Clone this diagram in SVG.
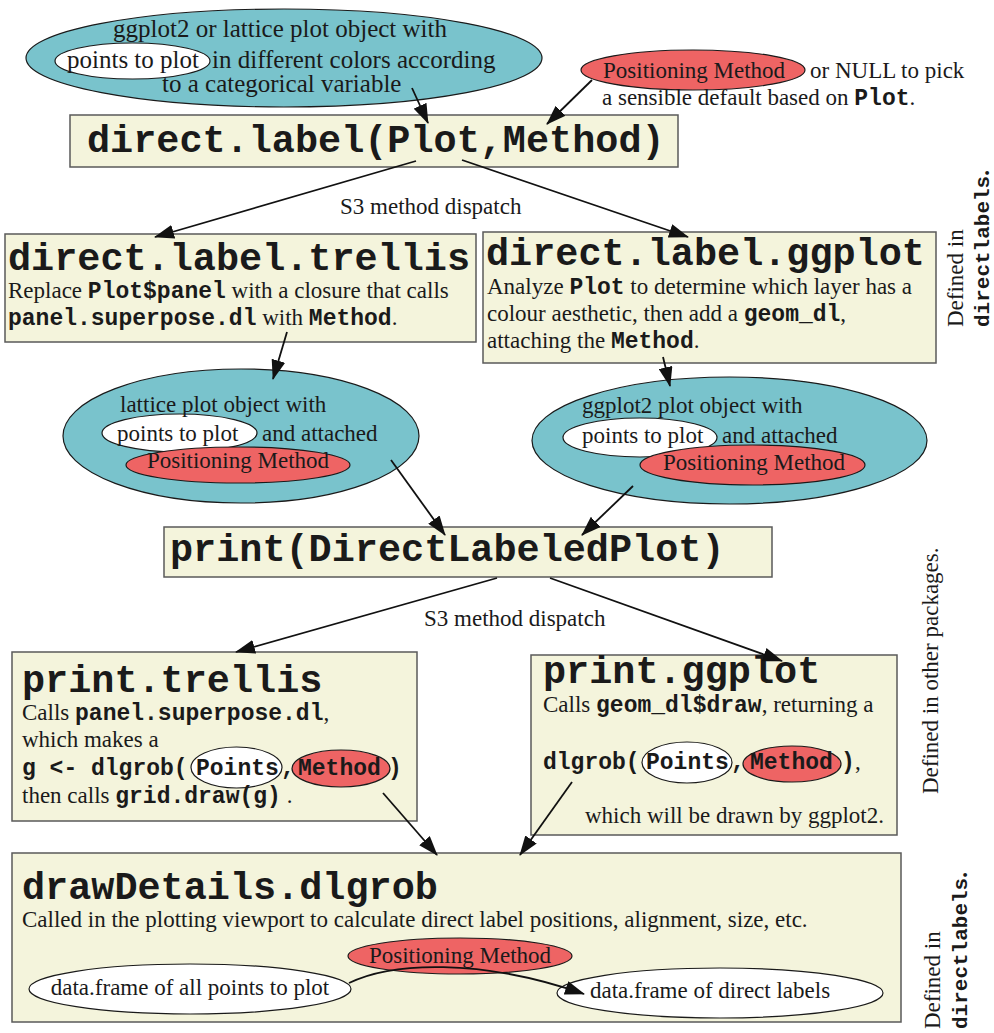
<svg xmlns="http://www.w3.org/2000/svg" width="994" height="1033" viewBox="0 0 994 1033">
<defs>
<style>
.s{font-family:"Liberation Serif","Times New Roman",serif;font-size:23px;fill:#1a1a1a}
.s25{font-family:"Liberation Serif","Times New Roman",serif;font-size:25px;fill:#1a1a1a}
.m{font-family:"Liberation Mono","Courier New",monospace;font-weight:bold;font-size:23px}
.mr{font-family:"Liberation Mono","Courier New",monospace;font-weight:bold;font-size:21px;fill:#1a1a1a}
.t{font-family:"Liberation Mono","Courier New",monospace;font-weight:bold;font-size:38.5px;fill:#1a1a1a}
.box{fill:#F4F4DC;stroke:#5a5a5a;stroke-width:1.5}
.teal{fill:#79C3CC;stroke:#1a1a1a;stroke-width:1.2}
.red{fill:#EE6464;stroke:#1a1a1a;stroke-width:1.2}
.wht{fill:#ffffff;stroke:#1a1a1a;stroke-width:1.2}
.c{fill:none;stroke:#111;stroke-width:1.8;marker-end:url(#ah)}
</style>
<marker id="ah" markerUnits="userSpaceOnUse" viewBox="0 0 20 14" refX="19" refY="7" markerWidth="20" markerHeight="14" orient="auto">
<path d="M0,0 L20,7 L0,14 z" fill="#111"/>
</marker>
</defs>

<g id="plot-input">
<ellipse class="teal" cx="284" cy="58" rx="258" ry="49"/>
<ellipse class="wht" cx="132.5" cy="61" rx="77.5" ry="18"/>
<text class="s25" x="113" y="37">ggplot2 or lattice plot object with</text>
<text class="s25" x="67" y="68">points to plot</text>
<text class="s25" x="212" y="68">in different colors according</text>
<text class="s25" x="162" y="92">to a categorical variable</text>
</g>

<g id="method-input">
<ellipse class="red" cx="693" cy="70" rx="112" ry="20"/>
<text class="s" x="603" y="78">Positioning Method</text>
<text class="s" x="810" y="78">or NULL to pick</text>
<text class="s" x="602" y="105">a sensible default based on <tspan class="m">Plot</tspan>.</text>
</g>

<g id="direct-label">
<rect class="box" x="70" y="115" width="608" height="52"/>
<text class="t" x="87" y="152">direct.label(Plot,Method)</text>
</g>

<g id="direct-label-trellis">
<rect class="box" x="5" y="234" width="471" height="108"/>
<text class="t" x="8" y="270">direct.label.trellis</text>
<text class="s" x="8" y="298">Replace <tspan class="m">Plot$panel</tspan> with a closure that calls</text>
<text class="s" x="8" y="325"><tspan class="m">panel.superpose.dl</tspan> with <tspan class="m">Method</tspan>.</text>
</g>

<g id="direct-label-ggplot">
<rect class="box" x="483" y="232" width="453" height="131"/>
<text class="t" x="486" y="265">direct.label.ggplot</text>
<text class="s" x="487" y="294">Analyze <tspan class="m">Plot</tspan> to determine which layer has a</text>
<text class="s" x="487" y="321">colour aesthetic, then add a <tspan class="m">geom_dl</tspan>,</text>
<text class="s" x="487" y="348">attaching the <tspan class="m">Method</tspan>.</text>
</g>

<g id="lattice-object">
<ellipse class="teal" cx="241" cy="436" rx="178" ry="67"/>
<ellipse class="wht" cx="179.5" cy="433" rx="77.5" ry="19"/>
<ellipse class="red" cx="238" cy="465" rx="112" ry="18"/>
<text class="s" x="120" y="412">lattice plot object with</text>
<text class="s" x="117" y="441">points to plot</text>
<text class="s" x="262" y="441">and attached</text>
<text class="s" x="238" y="468" text-anchor="middle">Positioning Method</text>
</g>

<g id="ggplot-object">
<ellipse class="teal" cx="729.5" cy="440.5" rx="197.5" ry="63.5"/>
<ellipse class="wht" cx="640" cy="437.5" rx="77" ry="19.5"/>
<ellipse class="red" cx="752.5" cy="465" rx="112.5" ry="20"/>
<text class="s" x="582" y="413">ggplot2 plot object with</text>
<text class="s" x="582" y="443">points to plot</text>
<text class="s" x="722" y="443">and attached</text>
<text class="s" x="663" y="470">Positioning Method</text>
</g>

<g id="print-plot">
<rect class="box" x="164" y="527" width="608" height="50"/>
<text class="t" x="170" y="561">print(DirectLabeledPlot)</text>
</g>

<g id="print-trellis">
<rect class="box" x="12" y="652" width="405" height="169"/>
<text class="t" x="22" y="692">print.trellis</text>
<text class="s" x="22" y="720">Calls <tspan class="m">panel.superpose.dl</tspan>,</text>
<text class="s" x="22" y="747">which makes a</text>
<ellipse class="wht" cx="236.5" cy="767.5" rx="45.5" ry="20.5"/>
<ellipse class="red" cx="341" cy="768.5" rx="49" ry="18.5"/>
<text class="m" x="22" y="775" fill="#1a1a1a">g &lt;- dlgrob(</text>
<text class="m" x="196" y="775" fill="#1a1a1a">Points</text>
<text class="m" x="281" y="775" fill="#1a1a1a">,</text>
<text class="m" x="298" y="775" fill="#1a1a1a">Method</text>
<text class="m" x="388" y="775" fill="#1a1a1a">)</text>
<text class="s" x="22" y="803">then calls <tspan class="m">grid.draw(g)</tspan> .</text>
</g>

<g id="print-ggplot">
<rect class="box" x="531" y="655" width="366" height="180"/>
<text class="t" x="543" y="683">print.ggplot</text>
<text class="s" x="543" y="712">Calls <tspan class="m">geom_dl$draw</tspan>, returning a</text>
<ellipse class="wht" cx="687" cy="762.5" rx="45" ry="20.5"/>
<ellipse class="red" cx="792" cy="764" rx="49" ry="18"/>
<text class="m" x="543" y="769" fill="#1a1a1a">dlgrob(</text>
<text class="m" x="646" y="769" fill="#1a1a1a">Points</text>
<text class="m" x="731" y="769" fill="#1a1a1a">,</text>
<text class="m" x="750" y="769" fill="#1a1a1a">Method</text>
<text class="m" x="841" y="769" fill="#1a1a1a">)</text>
<text class="s" x="855" y="769">,</text>
<text class="s" x="585" y="823">which will be drawn by ggplot2.</text>
</g>

<g id="draw-details">
<rect class="box" x="12" y="853" width="889" height="169"/>
<text class="t" x="22" y="899">drawDetails.dlgrob</text>
<text class="s" x="22" y="927">Called in the plotting viewport to calculate direct label positions, alignment, size, etc.</text>
<ellipse class="wht" cx="190" cy="989" rx="161" ry="25"/>
<ellipse class="wht" cx="720" cy="993" rx="163" ry="25"/>
<ellipse class="red" cx="460" cy="956" rx="112" ry="18"/>
<text class="s" x="460" y="963" text-anchor="middle">Positioning Method</text>
<text class="s" x="190" y="995" text-anchor="middle">data.frame of all points to plot</text>
<text class="s" x="590" y="998">data.frame of direct labels</text>
</g>

<g id="side-notes">
<text class="s" transform="translate(963,327) rotate(-90)">Defined in</text>
<text class="mr" transform="translate(989,327) rotate(-90)">directlabels<tspan class="s">.</tspan></text>
<text class="s" transform="translate(938,794) rotate(-90)">Defined in other packages.</text>
<text class="s" transform="translate(940,1029) rotate(-90)">Defined in</text>
<text class="mr" transform="translate(967,1029) rotate(-90)">directlabels<tspan class="s">.</tspan></text>
</g>

<g id="connectors">
<text class="s" x="340" y="214">S3 method dispatch</text>
<text class="s" x="424" y="626">S3 method dispatch</text>
<line class="c" x1="412" y1="88" x2="428" y2="123"/>
<line class="c" x1="592" y1="80" x2="547" y2="124"/>
<line class="c" x1="416" y1="161" x2="155" y2="237"/>
<line class="c" x1="462" y1="160" x2="688" y2="237"/>
<line class="c" x1="287" y1="332" x2="273" y2="379"/>
<line class="c" x1="663" y1="357" x2="670" y2="386"/>
<line class="c" x1="391" y1="460" x2="445" y2="535"/>
<line class="c" x1="633" y1="486" x2="582" y2="535"/>
<line class="c" x1="497" y1="578" x2="236" y2="652"/>
<line class="c" x1="550" y1="578" x2="782" y2="661"/>
<line class="c" x1="383" y1="793" x2="437" y2="855"/>
<line class="c" x1="572" y1="782" x2="520" y2="855"/>
<path class="c" d="M349,983 C392,962 480,958 584,994"/>
</g>
</svg>
